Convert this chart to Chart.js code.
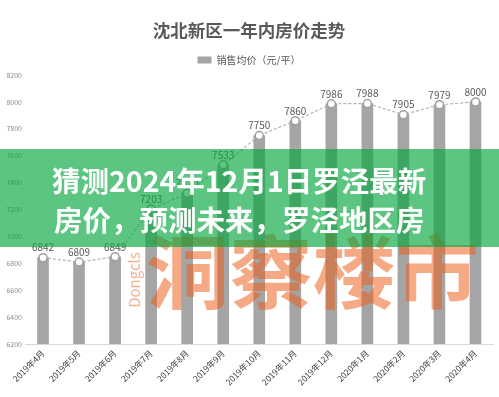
<!DOCTYPE html>
<html>
<head>
  <meta charset="UTF-8">
  <title>沈北新区一年内房价走势</title>
  <script src="https://cdn.jsdelivr.net/npm/chart.js@4.4.0/dist/chart.umd.min.js"></script>
  <style>
    html, body { margin: 0; padding: 0; background: #fff; }
    #wrap { width: 499px; height: 397px; }
  </style>
</head>
<body>
  <div id="wrap"><canvas id="chartHarga"></canvas></div>

  <script>
    const bulan = ["2019年4月", "2019年5月", "2019年6月", "2019年7月", "2019年8月", "2019年9月",
      "2019年10月", "2019年11月", "2019年12月", "2020年1月", "2020年2月", "2020年3月", "2020年4月"];
    const hargaRata = [6842, 6809, 6849, 7203, 7320, 7533, 7750, 7860, 7986, 7988, 7905, 7979, 8000];
    const yTicks = [6200, 6400, 6600, 6800, 7000, 7200, 7400, 7600, 7800, 8000, 8200];
    const bannerLines = ["猜测2024年12月1日罗泾最新", "房价，预测未来，罗泾地区房"];
    const watermark = "洞察楼市";
    const watermarkEn = "Dongcls";

    const FONT = "'Noto Sans CJK SC', 'Noto Sans', sans-serif";

    // angka di atas titik garis
    const labelAngka = {
      id: "labelAngka",
      afterDatasetsDraw(chart) {
        const meta = chart.getDatasetMeta(1);
        const ctx = chart.ctx;
        ctx.save();
        ctx.font = "10px " + FONT;
        ctx.fillStyle = "#595959";
        ctx.textAlign = "center";
        ctx.textBaseline = "bottom";
        meta.data.forEach((pt, i) => {
          ctx.fillText(String(hargaRata[i]), pt.x, pt.y - 5);
        });
        ctx.restore();
      }
    };

    // watermark oranye dan pita hijau di atas grafik
    const overlay = {
      id: "overlay",
      afterDraw(chart) {
        const ctx = chart.ctx;
        const w = chart.width;
        ctx.save();

        ctx.save();
        ctx.translate(146, 272);
        ctx.scale(1.04, 1);
        ctx.fillStyle = "rgba(236, 90, 20, 0.52)";
        ctx.font = "bold 80px " + FONT;
        ctx.textAlign = "left";
        ctx.textBaseline = "middle";
        ctx.fillText(watermark, 0, 0);
        ctx.restore();

        ctx.save();
        ctx.translate(134, 280);
        ctx.rotate(-Math.PI / 2);
        ctx.font = "15px " + FONT;
        ctx.fillStyle = "rgba(236, 110, 50, 0.55)";
        ctx.textAlign = "center";
        ctx.fillText(watermarkEn, 0, 0);
        ctx.restore();

        ctx.fillStyle = "rgba(5, 166, 62, 0.65)";
        ctx.fillRect(0, 149, w, 98);

        ctx.fillStyle = "#ffffff";
        ctx.font = "bold 28.5px " + FONT;
        ctx.textAlign = "left";
        ctx.textBaseline = "middle";
        ctx.fillText(bannerLines[0], 52, 181);
        ctx.fillText(bannerLines[1], 54, 220);
        ctx.restore();
      }
    };

    const chartHarga = new Chart(document.getElementById("chartHarga"), {
      data: {
        labels: bulan,
        datasets: [
          {
            type: "bar",
            label: "销售均价（元/平）",
            data: hargaRata,
            backgroundColor: "#a5a5a5",
            barThickness: 11,
            order: 1
          },
          {
            type: "line",
            label: "折线",
            data: hargaRata,
            borderColor: "#b4b4b4",
            borderWidth: 1.2,
            borderDash: [3, 2],
            pointRadius: 4,
            pointBackgroundColor: "#ffffff",
            pointBorderColor: "#a0a0a0",
            pointBorderWidth: 1.5,
            tension: 0,
            order: 0
          }
        ]
      },
      options: {
        responsive: true,
        maintainAspectRatio: false,
        animation: false,
        layout: { padding: { left: 2, right: 3, top: 0, bottom: 0 } },
        plugins: {
          title: {
            display: true,
            text: "沈北新区一年内房价走势",
            color: "#595959",
            font: { family: FONT, size: 17.5 },
            padding: { top: 20, bottom: 6 }
          },
          legend: {
            display: true,
            labels: {
              filter: (item) => item.datasetIndex === 0,
              color: "#595959",
              font: { family: FONT, size: 10 },
              boxWidth: 14,
              boxHeight: 7,
              padding: 8
            }
          },
          tooltip: { enabled: false }
        },
        scales: {
          x: {
            grid: { display: false, drawTicks: false },
            border: { display: true, color: "#d9d9d9" },
            ticks: {
              color: "#404040",
              font: { family: FONT, size: 8.5 },
              minRotation: 45,
              maxRotation: 45,
              padding: 4,
              autoSkip: false
            },
            afterFit: (s) => { s.height = 53; }
          },
          y: {
            min: 6200,
            max: 8200,
            grid: { display: false, drawTicks: false },
            border: { display: false },
            afterBuildTicks: (s) => { s.ticks = yTicks.map(v => ({ value: v })); },
            ticks: {
              color: "#8c8c8c",
              font: { family: FONT, size: 7 },
              callback: (v) => String(v)
            },
            afterFit: (s) => { s.width = 23; }
          }
        }
      },
      plugins: [labelAngka, overlay]
    });
  </script>
</body>
</html>
